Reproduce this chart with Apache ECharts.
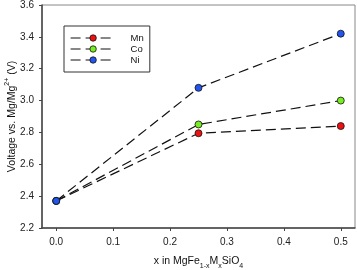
<!DOCTYPE html>
<html><head><meta charset="utf-8">
<script src="https://cdn.jsdelivr.net/npm/echarts@6/dist/echarts.min.js"></script>
<style>html,body{margin:0;padding:0;background:#fff}#c{width:357px;height:270px}</style>
</head><body><div id="c"></div>
<script>
const xValues = [0.0, 0.25, 0.5];
const mnValues = [2.37, 2.795, 2.84];
const coValues = [2.37, 2.85, 3.00];
const niValues = [2.37, 3.08, 3.42];
const seriesNames = ['Mn', 'Co', 'Ni'];
const xTicks = [0.0, 0.1, 0.2, 0.3, 0.4, 0.5];

const colors = {Mn: '#ee1111', Co: '#77ee22', Ni: '#2255ee'};
const font = 'Liberation Sans, Arial, sans-serif';

function mk(name, vals) {
  return {
    name: name, type: 'line',
    data: xValues.map((x, i) => [x, vals[i]]),
    symbol: 'circle', symbolSize: 7,
    itemStyle: {color: colors[name], borderColor: '#111', borderWidth: 0.8},
    lineStyle: {color: '#111', width: 1.2, type: [10, 5]},
    emphasis: {disabled: true}, animation: false, z: 3
  };
}

const chart = echarts.init(document.getElementById('c'), null, {renderer: 'canvas'});
chart.setOption({
  animation: false,
  backgroundColor: '#fff',
  grid: {left: 42, right: 2, top: 5, bottom: 42, show: true, borderColor: '#888', borderWidth: 1,
         containLabel: false, outerBoundsMode: 'none'},
  legend: {
    left: 64, top: 26, orient: 'vertical',
    itemWidth: 45, itemHeight: 8, itemGap: 1,
    padding: [7, 6, 7, 6],
    borderColor: '#333', borderWidth: 1, backgroundColor: '#fff',
    textStyle: {fontFamily: font, fontSize: 9.5, color: '#111', padding: [0, 0, 0, 10]},
    data: seriesNames.map(n => ({name: n, itemStyle: {color: colors[n], borderColor: '#111', borderWidth: 0.8}, lineStyle: {color: '#111', type: [10, 5], width: 1.2}}))
  },
  xAxis: {
    type: 'value', min: -0.025, max: 0.525,
    name: '{m|x in MgFe}{s|1-x}{m|M}{s|x}{m|SiO}{s|4}',
    nameLocation: 'middle', nameGap: 25, nameMoveOverlap: false,
    nameTextStyle: {rich: {
      m: {fontFamily: font, fontSize: 10.5, color: '#111', lineHeight: 14, verticalAlign: 'bottom'},
      s: {fontFamily: font, fontSize: 7, color: '#111', lineHeight: 14, verticalAlign: 'bottom', padding: [0, 0, -3, 0]}
    }},
    axisLine: {show: true, onZero: false, lineStyle: {color: '#444', width: 1.5}},
    axisTick: {show: true, inside: false, length: 3, customValues: xTicks, lineStyle: {color: '#444'}},
    axisLabel: {customValues: xTicks, formatter: v => v.toFixed(1), fontFamily: font, fontSize: 10, color: '#222', margin: 9},
    splitLine: {show: false}
  },
  yAxis: {
    type: 'value', min: 2.2, max: 3.6, interval: 0.2,
    name: '{m|Voltage vs. Mg/Mg}{p|2+}{m| (V)}',
    nameLocation: 'middle', nameGap: 24, nameRotate: 90, nameMoveOverlap: false,
    nameTextStyle: {rich: {
      m: {fontFamily: font, fontSize: 10.5, color: '#111', lineHeight: 14, verticalAlign: 'bottom'},
      p: {fontFamily: font, fontSize: 7, color: '#111', lineHeight: 14, verticalAlign: 'top'}
    }},
    axisLine: {show: true, onZero: false, lineStyle: {color: '#444', width: 1.5}},
    axisTick: {show: true, inside: false, length: 3, lineStyle: {color: '#444'}},
    axisLabel: {formatter: v => v.toFixed(1), fontFamily: font, fontSize: 10, color: '#222', margin: 8},
    splitLine: {show: false}
  },
  series: [mk('Mn', mnValues), mk('Co', coValues), mk('Ni', niValues)]
});
</script></body></html>
